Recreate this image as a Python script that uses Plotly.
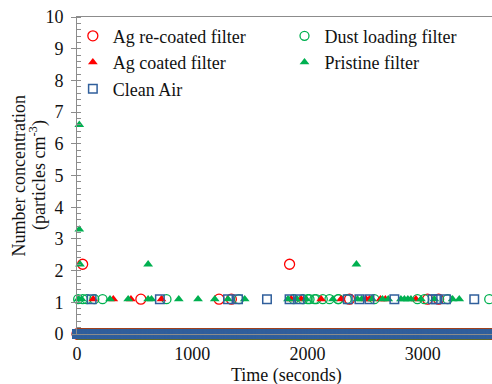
import plotly.graph_objects as go

# ---- data ----
# measurement times (s) where every series reads 0 (dense band at the bottom)
sample_times = list(range(0, 3601, 5))

# non-zero readings: times (s) and concentrations (particles cm^-3)
recoated_t = [49, 1844, 554, 1232, 1339, 2364, 3041, 3137]
recoated_v = [2.2, 2.2, 1.1, 1.1, 1.1, 1.1, 1.1, 1.1]

dust_t = [10, 50, 84, 150, 222, 776, 1405, 1880, 1960, 2000, 2017, 2060, 2075, 2132,
          2190, 2264, 2270, 2340, 2580, 2953, 3013, 3215, 3576]
dust_v = [1.1] * 23

coated_t = [141, 315, 468, 733, 1859, 1945, 2118, 2290, 2508, 2537, 2632, 2675, 2940]
coated_v = [1.1] * 13

pristine_t = [20, 20, 26, 617, 2424,
              12, 40, 286, 444, 617, 646, 883, 1050, 1195, 1310, 1455, 1830, 1900,
              1988, 2220, 2433, 2470, 2560, 2650, 2700, 2810, 2840, 2870, 2897,
              2984, 3100, 3258, 3316]
pristine_v = [6.6, 3.3, 2.2, 2.2, 2.2] + [1.1] * 28

clean_t = [127, 719, 1310, 1397, 1648, 1844, 1931, 2349, 2450, 2537, 2753, 3085,
           3114, 3200, 3446]
clean_v = [1.1] * 15

x_ticks = [0, 1000, 2000, 3000]
y_ticks = list(range(0, 11))

RED = "#FF0000"
GREEN = "#00B050"
BLUE = "#305F9C"
FONT = "Liberation Serif"

series = [
    ("Ag re-coated filter", recoated_t, recoated_v, "circle-open", RED, 10, 1.3, "legend"),
    ("Dust loading filter", dust_t, dust_v, "circle-open", GREEN, 9, 1.3, "legend2"),
    ("Ag coated filter", coated_t, coated_v, "triangle-up", RED, 8.5, 0, "legend"),
    ("Pristine filter", pristine_t, pristine_v, "triangle-up", GREEN, 8.5, 0, "legend2"),
    ("Clean Air", clean_t, clean_v, "square-open", BLUE, 8.5, 1.5, "legend"),
]

fig = go.Figure()
for name, t, v, sym, col, size, lw, leg in series:
    xs = sample_times + t
    ys = [0] * len(sample_times) + v
    fig.add_trace(go.Scatter(
        x=xs, y=ys, mode="markers", name=name, legend=leg,
        legendgroup=name, cliponaxis=False,
        marker=dict(symbol=sym, color=col, size=size,
                    line=dict(color=col, width=lw)),
    ))

fig.update_layout(
    width=492, height=384,
    margin=dict(l=77, r=0, t=17, b=50),
    paper_bgcolor="white", plot_bgcolor="white",
    font=dict(family=FONT, size=18, color="#111"),
    legend=dict(x=-0.01, y=0.998, xanchor="left", yanchor="top",
                bgcolor="rgba(0,0,0,0)", font=dict(size=18), tracegroupgap=0),
    legend2=dict(x=0.50, y=0.998, xanchor="left", yanchor="top",
                 bgcolor="rgba(0,0,0,0)", font=dict(size=18), tracegroupgap=0),
    xaxis=dict(range=[0, 3600], tickvals=x_ticks, showgrid=False, zeroline=False,
               showline=True, linecolor="#8c8c8c", linewidth=1, mirror=True,
               ticks="", ticklabelstandoff=3),
    yaxis=dict(range=[0, 10], tickvals=y_ticks, showgrid=False, zeroline=False,
               showline=True, linecolor="#8c8c8c", linewidth=1,
               ticks="outside", ticklen=5, tickcolor="#8c8c8c", ticklabelstandoff=4,
               minor=dict(dtick=0.2, ticks="inside", ticklen=4, tickcolor="#8c8c8c",
                          showgrid=False)),
)

fig.add_annotation(text="Time (seconds)", xref="paper", yref="paper",
                   x=0.506, y=-0.131, showarrow=False,
                   xanchor="center", yanchor="middle", font=dict(size=18))
fig.add_annotation(text="Number concentration", xref="paper", yref="paper",
                   x=-0.14, y=0.5, textangle=-90, showarrow=False,
                   xanchor="center", yanchor="middle", font=dict(size=18))
fig.add_annotation(text="(particles cm<sup>-3</sup>)", xref="paper", yref="paper",
                   x=-0.095, y=0.5, textangle=-90, showarrow=False,
                   xanchor="center", yanchor="middle", font=dict(size=18))

fig.write_html("out.html")
